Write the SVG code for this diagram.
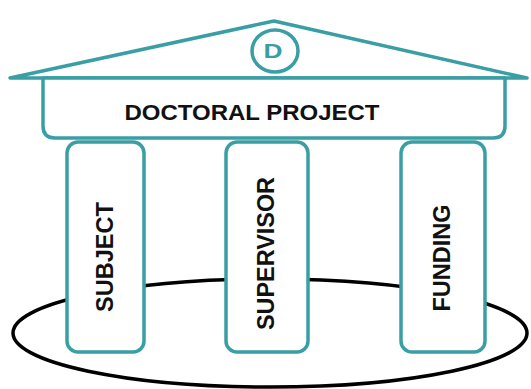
<svg xmlns="http://www.w3.org/2000/svg" width="531" height="389" viewBox="0 0 531 389">
<style>
.teal{fill:#fff;stroke:#3a9ea5;stroke-width:3.5;stroke-linejoin:round}
.lbl{font-family:"Liberation Sans",Arial,sans-serif;fill:#111;text-anchor:middle}
.pil{font-size:23px;font-weight:bold}
</style>
<rect width="531" height="389" fill="#fff"/>
<g id="base">
<ellipse cx="270" cy="333" rx="257" ry="54" fill="none" stroke="#000" stroke-width="3.5"/>
</g>
<g id="roof">
<polygon class="teal" points="10,78 274,21 527,78"/>
<ellipse class="teal" cx="275" cy="51" rx="23" ry="21"/>
<text class="lbl" x="273" y="58" font-size="21" font-weight="bold" style="fill:#3a9ea5" textLength="19" lengthAdjust="spacingAndGlyphs">D</text>
</g>
<g id="doctoral-project">
<path class="teal" d="M43,78 V126 Q43,138 55,138 H493 Q505,138 505,126 V78 Z"/>
<text class="lbl" x="252" y="120" font-size="22" font-weight="bold" textLength="255" lengthAdjust="spacingAndGlyphs">DOCTORAL PROJECT</text>
</g>
<g id="subject">
<rect class="teal" x="67" y="142" width="77" height="210" rx="11"/>
<text class="lbl pil" transform="translate(113,257) rotate(-90)" textLength="110" lengthAdjust="spacingAndGlyphs">SUBJECT</text>
</g>
<g id="supervisor">
<rect class="teal" x="226" y="142" width="82" height="210" rx="11"/>
<text class="lbl pil" transform="translate(274,253.5) rotate(-90)" textLength="153" lengthAdjust="spacingAndGlyphs">SUPERVISOR</text>
</g>
<g id="funding">
<rect class="teal" x="401" y="142" width="84" height="210" rx="11"/>
<text class="lbl pil" transform="translate(450,258) rotate(-90)" textLength="107" lengthAdjust="spacingAndGlyphs">FUNDING</text>
</g>
</svg>
